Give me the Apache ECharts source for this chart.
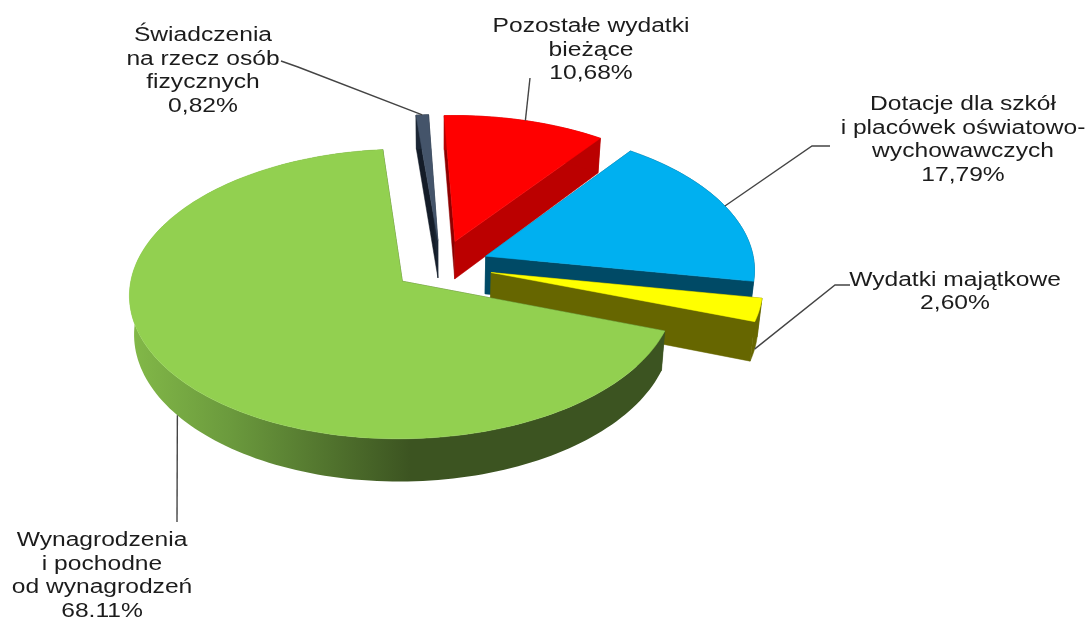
<!DOCTYPE html>
<html><head><meta charset="utf-8">
<style>html,body{margin:0;padding:0;background:#fff}#c{width:1085px;height:618px;filter:blur(0.4px)}</style>
<script src="https://cdn.jsdelivr.net/npm/echarts@6/dist/echarts.min.js"></script>
</head><body><div id="c"></div>
<script>
// ---- data ----
const categories = ['Wynagrodzenia\ni pochodne\nod wynagrodzeń','Świadczenia\nna rzecz osób\nfizycznych','Pozostałe wydatki\nbieżące','Dotacje dla szkół\ni placówek oświatowo-\nwychowawczych','Wydatki majątkowe'];
const shares = [68.11, 0.82, 10.68, 17.79, 2.60];
const valueLabels = ['68.11%','0,82%','10,68%','17,79%','2,60%'];
// ---- style & layout (not data) ----
const topColors = ['#92D050','#44546A','#FF0000','#00B0F0','#FFFF00'];
const sideColors = ['#3C5421','#1B2635','#BB0000','#004A66','#666600'];
const startCutColors = ['#3C5421','#141C28','#8E0000','#004A66','#666600'];
const paintOrder = [1,2,3,4,0];
const firstAngle = 19.6, explodes = [0.18,0.18,0.18,0.18,0.192];
const cx = 441, cy = 265.5, a = 269, b = 141, p = 0.087, depth = 38, q = 0.1, shrink = 0.985;
const labelCentres = [[102,576],[203,71],[591,50],[963,140],[955,292]];
const labelScale = 1.23;
const leaderElbows = [[[177,522]],[[298,67],[281,61]],[[530,78]],[[812,146],[830,146]],[[835,285],[850,285]]];
const leaderFromBottom = [true,false,false,false,true];

const total = shares.reduce((s,v)=>s+v,0);
const rad = d => d*Math.PI/180;
let acc = firstAngle;
const spans = shares.map(v=>{const s=acc; acc+=v/total*360; return [s,acc];});

function proj(u,v,bottom){
  const s = 1/(1-p*v);
  if(!bottom) return [cx+a*u*s, cy+b*v*s];
  return [cx+a*u*s*shrink, cy+b*v*s+depth/(1-q*v)];
}
function offset(i){const m=rad((spans[i][0]+spans[i][1])/2);return [explodes[i]*Math.cos(m),explodes[i]*Math.sin(m)];}
function rim(i,deg,bottom){const o=offset(i),t=rad(deg);return proj(o[0]+Math.cos(t),o[1]+Math.sin(t),bottom);}
function apex(i,bottom){const o=offset(i);return proj(o[0],o[1],bottom);}
function arc(i,bottom){
  const pts=[],[s,e]=spans[i],n=Math.max(4,Math.ceil((e-s)/1.5));
  for(let k=0;k<=n;k++)pts.push(rim(i,s+(e-s)*k/n,bottom));
  return pts;
}
const poly=(pts,fill,stroke)=>({type:'polygon',shape:{points:pts},style:{fill,stroke:stroke||fill,lineWidth:0.5},silent:true});
const wallFill=i=>i!==0?sideColors[i]:{type:'linear',x:133,y:0,x2:410,y2:0,global:true,
  colorStops:[{offset:0,color:'#82B848'},{offset:0.35,color:'#6B9A3D'},{offset:1,color:'#3C5421'}]};

function renderSlice(params,api){
  const i=api.value(1);
  const [s,e]=spans[i];
  const top=arc(i,false),bot=arc(i,true);
  const children=[
    poly([apex(i,false),rim(i,s,false),rim(i,s,true),apex(i,true)],startCutColors[i]),
    poly([apex(i,false),rim(i,e,false),rim(i,e,true),apex(i,true)],sideColors[i]),
    poly(top.concat(bot.slice().reverse()),wallFill(i),i===0?'none':null),
    poly([apex(i,false)].concat(top),topColors[i])
  ];
  return {type:'group',children};
}
function renderLabel(params,api){
  const i=api.value(1);
  const mid=(spans[i][0]+spans[i][1])/2;
  const pts=[rim(i,mid,leaderFromBottom[i])].concat(leaderElbows[i]);
  const [x,y]=labelCentres[i];
  return {type:'group',children:[
    {type:'polyline',shape:{points:pts},style:{fill:'none',stroke:'#444',lineWidth:1.4},silent:true},
    {type:'text',x,y,scaleX:labelScale,silent:true,style:{
      text:categories[i]+'\n'+valueLabels[i],x:0,y:0,align:'center',verticalAlign:'middle',
      fill:'#1c1c1c',fontFamily:'"Liberation Sans",Arial,sans-serif',fontSize:20,lineHeight:23.5}}
  ]};
}
const rows=paintOrder.map(i=>[shares[i],i]);
const chart=echarts.init(document.getElementById('c'),null,{renderer:'canvas'});
chart.setOption({
  animation:false,
  backgroundColor:'#fff',
  tooltip:{show:false},
  series:[
    {type:'custom',coordinateSystem:'none',data:rows,renderItem:renderSlice,silent:true,z:2},
    {type:'custom',coordinateSystem:'none',data:rows,renderItem:renderLabel,silent:true,z:3}
  ]
});
</script></body></html>
